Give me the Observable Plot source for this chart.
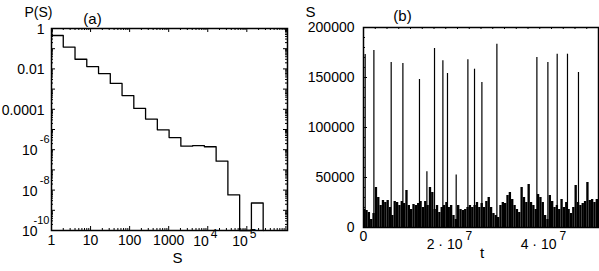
<!DOCTYPE html>
<html><head><meta charset="utf-8">
<script src="https://cdn.jsdelivr.net/npm/d3@7"></script>
<script src="https://cdn.jsdelivr.net/npm/@observablehq/plot@0.6"></script>
<style>
body{margin:0;background:#fff}
#wrap{position:relative;width:599px;height:271px;overflow:hidden;background:#fff}
#a,#b{position:absolute;top:0}
#a{left:0}
#b{left:300px}
svg{overflow:visible}
</style></head><body><div id="wrap"><div id="a"></div><div id="b"></div></div>
<script>
// ---------- Panel (a): histogram P(S), log-log ----------
const aBinEdges = [1,2,4,8,16,32,64,128,256,512,1024,2048,4096,8192,16384,32768,65536,131072,262144];
const aBinProb  = [0.45,0.12,0.03,0.013,0.0059,0.0019,4.8e-4,1.1e-4,3.3e-5,9.6e-6,4e-6,1.5e-6,1.6e-6,1.4e-6,2.7e-7,5.8e-9,0,2.3e-9];
const aYLabelVals = [1,0.01,1e-4,1e-6,1e-8,1e-10];
const aYLabelBase = ["1","0.01","0.0001","10","10","10"];
const aYLabelExp  = ["","","","-6","-8","-10"];
const aXLabelVals = [1,10,100,1000,1e4,1e5];
const aXLabelBase = ["1","10","100","1000","10","10"];
const aXLabelExp  = ["","","","","4","5"];

// ---------- Panel (b): time series S(t) ----------
const bSpikeT = [3.6e5,2.21e6,5.89e6,8.38e6,1.191e7,1.349e7,1.511e7,1.689e7,1.787e7,1.972e7,2.221e7,2.362e7,2.519e7,2.838e7,3.689e7,3.923e7,4.121e7,4.34e7,4.574e7];
const bSpikeS = [173000,177000,165000,164000,148000,55700,179000,166700,154000,52400,167700,158300,145000,183300,170000,165000,173300,173300,155000];
const bNoiseStep = 5e5;
const bNoise = [ // background activity, thousands, one value per 5e5 time units
 18,17,15,8,14,40,30,22,27,25,27,20,12,26,25,22,26,24,37,22,
 18,23,22,24,26,20,26,22,40,35,18,22,15,20,22,25,20,22,12,8,
 22,18,17,18,20,22,20,22,25,20,24,20,26,30,20,14,12,10,22,25,
 24,32,35,28,22,18,15,40,30,25,43,25,22,18,33,30,25,12,8,32,
 26,20,22,18,28,20,25,18,14,20,42,25,22,24,26,45,27,28,25,28];
const bYLabelVals = [0,50000,100000,150000,200000];
const bYLabelText = ["0","50000","100000","150000","200000"];
const bXLabelVals = [0,2e7,4e7];
const bXLabelBase = ["0","2 \u00b7 10","4 \u00b7 10"];
const bXLabelExp  = ["","7","7"];

const FONT = "'Liberation Sans', Arial, sans-serif";
const FS = 14, FSE = 11, FST = 15;

// ---------- build panel (a) ----------
{
  const W=300,H=271,ml=51,mr=13,mt=28,mb=41;
  const pw=W-ml-mr, ph=H-mt-mb;
  const yFloor=1e-10;
  const steps = aBinEdges.map((e,i)=>({s:e, p: i<aBinProb.length ? aBinProb[i] : 0}));
  const xMajor=[], xMinor=[];
  for (let e=0;e<=6;e++){ xMajor.push(10**e); for(let k=2;k<10;k++){const v=k*10**e; if(v<1.1e6) xMinor.push(v);} }
  const yMajor=[], yMinor=[];
  for (let e=-10;e<=0;e++){ yMajor.push(10**e); if(e<0) for(let k=2;k<10;k++) yMinor.push(k*10**e); }
  const txt = (o)=>({fontSize:FS, fill:"black", ...o});
  const yi = d3.range(aYLabelVals.length);
  const xi = d3.range(aXLabelVals.length);
  const plot = Plot.plot({
    width:W,height:H,marginLeft:ml,marginRight:mr,marginTop:mt,marginBottom:mb,
    style:{fontFamily:FONT,background:"transparent"},
    x:{type:"log",domain:[1,1.1e6],axis:null},
    y:{type:"log",domain:[yFloor,1],axis:null},
    marks:[
      Plot.line(steps,{x:"s",y:d=>d.p>0?d.p:yFloor,curve:"step-after",stroke:"black",strokeWidth:1.3}),
      Plot.tickX(xMajor,{x:d=>d,insetTop:ph-4,stroke:"black"}),
      Plot.tickX(xMinor,{x:d=>d,insetTop:ph-2,stroke:"black"}),
      Plot.tickX(xMajor,{x:d=>d,insetBottom:ph-4,stroke:"black"}),
      Plot.tickX(xMinor,{x:d=>d,insetBottom:ph-2,stroke:"black"}),
      Plot.tickY(yMajor,{y:d=>d,insetRight:pw-4,stroke:"black"}),
      Plot.tickY(yMinor,{y:d=>d,insetRight:pw-2,stroke:"black"}),
      Plot.tickY(yMajor,{y:d=>d,insetLeft:pw-4,stroke:"black"}),
      Plot.tickY(yMinor,{y:d=>d,insetLeft:pw-2,stroke:"black"}),
      Plot.frame({stroke:"black",strokeWidth:1.5}),
      // y labels
      Plot.text(yi.filter(i=>!aYLabelExp[i]),txt({y:i=>aYLabelVals[i],text:i=>aYLabelBase[i],frameAnchor:"left",dx:-7,dy:1,textAnchor:"end"})),
      Plot.text(yi.filter(i=>aYLabelExp[i]),txt({y:i=>aYLabelVals[i],text:i=>aYLabelBase[i],frameAnchor:"left",dx:-14,dy:1,textAnchor:"end"})),
      Plot.text(yi.filter(i=>aYLabelExp[i]),txt({y:i=>aYLabelVals[i],text:i=>aYLabelExp[i],frameAnchor:"left",dx:-2,dy:-10,textAnchor:"end",fontSize:FSE})),
      // x labels
      Plot.text(xi.filter(i=>!aXLabelExp[i]),txt({x:i=>aXLabelVals[i],text:i=>aXLabelBase[i],frameAnchor:"bottom",dy:14})),
      Plot.text(xi.filter(i=>aXLabelExp[i]),txt({x:i=>aXLabelVals[i],text:i=>aXLabelBase[i],frameAnchor:"bottom",dy:15,dx:1,textAnchor:"end"})),
      Plot.text(xi.filter(i=>aXLabelExp[i]),txt({x:i=>aXLabelVals[i],text:i=>aXLabelExp[i],frameAnchor:"bottom",dy:7,dx:3,textAnchor:"start",fontSize:FSE+1})),
      // titles
      Plot.text(["S"],txt({text:d=>d,frameAnchor:"bottom",dx:8,dy:32,fontSize:FST})),
      Plot.text(["P(S)"],txt({text:d=>d,frameAnchor:"top-left",dx:-13,dy:-21,textAnchor:"middle",fontSize:14})),
      Plot.text(["(a)"],txt({text:d=>d,frameAnchor:"top-left",dx:41,dy:-15,textAnchor:"middle",fontSize:FST}))
    ]
  });
  document.getElementById("a").append(plot);
}

// ---------- build panel (b) ----------
{
  const W=299,H=271,ml=63,mr=1,mt=27,mb=44;
  const pw=W-ml-mr, ph=H-mt-mb;
  const txt = (o)=>({fontSize:FS, fill:"black", ...o});
  const spikes = bSpikeT.map((t,i)=>({t, s:bSpikeS[i]}));
  const xMajor=[0,1e7,2e7,3e7,4e7,5e7], xMinor=d3.range(0,5e7,2.5e6);
  const yMajor=[0,50000,100000,150000,200000], yMinor=d3.range(0,200001,10000);
  const xi = d3.range(bXLabelVals.length);
  const plot = Plot.plot({
    width:W,height:H,marginLeft:ml,marginRight:mr,marginTop:mt,marginBottom:mb,
    style:{fontFamily:FONT,background:"transparent"},
    x:{type:"linear",domain:[0,5e7],axis:null},
    y:{type:"linear",domain:[0,200000],axis:null},
    marks:[
      Plot.rectY(bNoise,{x1:(d,i)=>i*bNoiseStep,x2:(d,i)=>(i+1)*bNoiseStep,y1:0,y2:d=>d*1000,fill:"black"}),
      Plot.ruleX(spikes,{x:"t",y1:0,y2:"s",stroke:"black",strokeWidth:1.2}),
      Plot.tickX(xMajor,{x:d=>d,insetTop:ph-4,stroke:"black"}),
      Plot.tickX(xMinor,{x:d=>d,insetBottom:ph-2,stroke:"black"}),
      Plot.tickY(yMajor,{y:d=>d,insetRight:pw-4,stroke:"black"}),
      Plot.tickY(yMinor,{y:d=>d,insetRight:pw-2,stroke:"black"}),
      Plot.frame({stroke:"black",strokeWidth:1.5}),
      Plot.text(bYLabelVals,txt({y:d=>d,text:(d,i)=>bYLabelText[i],frameAnchor:"left",dx:-9,textAnchor:"end"})),
      Plot.text(xi.filter(i=>!bXLabelExp[i]),txt({x:i=>bXLabelVals[i],text:i=>bXLabelBase[i],frameAnchor:"bottom",dy:13})),
      Plot.text(xi.filter(i=>bXLabelExp[i]),txt({x:i=>bXLabelVals[i],text:i=>bXLabelBase[i],frameAnchor:"bottom",dy:21,dx:5,textAnchor:"end"})),
      Plot.text(xi.filter(i=>bXLabelExp[i]),txt({x:i=>bXLabelVals[i],text:i=>bXLabelExp[i],frameAnchor:"bottom",dy:12,dx:8,textAnchor:"start",fontSize:FSE+1})),
      Plot.text(["t"],txt({text:d=>d,frameAnchor:"bottom",dx:1,dy:30,fontSize:FST})),
      Plot.text(["S"],txt({text:d=>d,frameAnchor:"top-left",dx:-53,dy:-21,textAnchor:"middle",fontSize:FST})),
      Plot.text(["(b)"],txt({text:d=>d,frameAnchor:"top-left",dx:39,dy:-17,textAnchor:"middle",fontSize:FST}))
    ]
  });
  document.getElementById("b").append(plot);
}
</script>
</body></html>
